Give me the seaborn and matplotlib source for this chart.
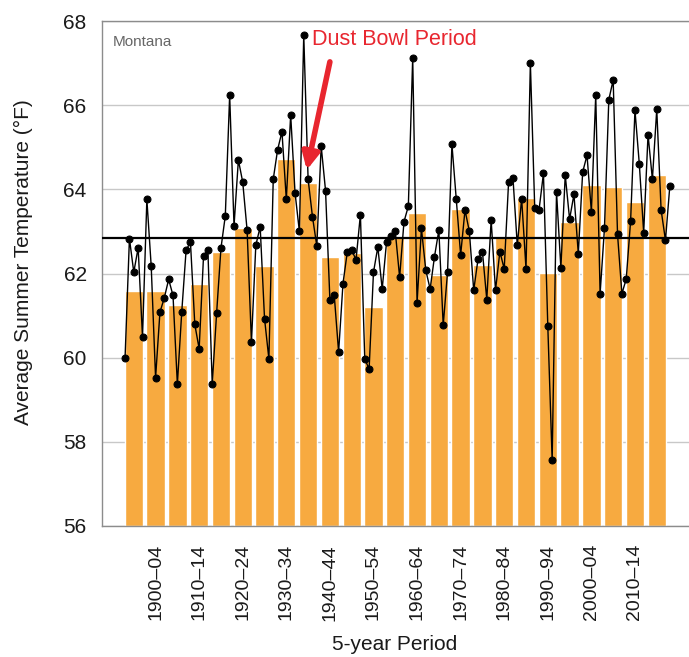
import numpy as np
import pandas as pd
import seaborn as sns
import matplotlib.pyplot as plt
from matplotlib.ticker import FixedLocator

# annual summer temperature (F), 1895-2020
years = np.arange(1895, 2021)
temps = [
    60.00, 62.83, 62.03, 62.61, 60.49,
    63.76, 62.17, 59.52, 61.08, 61.42, 61.86, 61.48, 59.37, 61.08, 62.55,
    62.75, 60.79, 60.21, 62.41, 62.57, 59.37, 61.05, 62.60, 63.37, 66.24,
    63.13, 64.70, 64.17, 63.03, 60.37, 62.67, 63.11, 60.93, 59.97, 64.24,
    64.94, 65.37, 63.76, 65.77, 63.92, 63.00, 67.67, 64.24, 63.35, 62.65,
    65.03, 63.97, 61.37, 61.48, 60.13, 61.76, 62.52, 62.55, 62.33, 63.40,
    59.97, 59.73, 62.03, 62.63, 61.63, 62.75, 62.90, 63.00, 61.91, 63.23,
    63.60, 67.13, 61.30, 63.07, 62.08, 61.63, 62.40, 63.03, 60.77, 62.04,
    65.07, 63.76, 62.44, 63.51, 63.00, 61.60, 62.35, 62.52, 61.38, 63.27,
    61.60, 62.52, 62.11, 64.17, 64.28, 62.67, 63.78, 62.11, 67.00, 63.56,
    63.52, 64.38, 60.75, 57.56, 63.94, 62.13, 64.34, 63.29, 63.88, 62.47,
    64.41, 64.81, 63.47, 66.24, 61.52, 63.07, 66.13, 66.60, 62.93, 61.52,
    61.87, 63.25, 65.88, 64.60, 62.97, 65.30, 64.24, 65.90, 63.51, 62.79,
    64.08,
]

# 5-year period means
period_start = np.arange(1895, 2020, 5)
period_mean = [
    61.58, 61.58, 61.26, 61.76, 62.52, 63.09, 62.17, 64.72, 64.15, 62.39,
    62.49, 61.21, 62.90, 63.43, 61.96, 63.53, 62.21, 62.90, 63.80, 62.02,
    63.23, 64.10, 64.06, 63.70, 64.33,
]
long_term_mean = 62.84

labeled_periods = [1900, 1910, 1920, 1930, 1940, 1950, 1960,
                   1970, 1980, 1990, 2000, 2010]

sns.set_style("white")
plt.rcParams["font.family"] = ["Liberation Sans", "DejaVu Sans"]

annual = pd.DataFrame({"year": years, "temp": temps})
periods = pd.DataFrame({"mid": period_start + 2, "temp": period_mean})

fig = plt.figure(figsize=(6.89, 6.57), dpi=100)
ax = fig.add_axes([0.148, 0.1994, 0.852, 0.7686])

sns.barplot(data=periods, x="mid", y="temp", native_scale=True, width=0.84,
            color="#F7AA40", saturation=1, errorbar=None, ax=ax)
# bars start at the bottom of the axis
for p in ax.patches:
    p.set_y(56)
    p.set_height(p.get_height() - 56)

ax.axhline(long_term_mean, color="black", lw=1.6, zorder=3)

sns.lineplot(data=annual, x="year", y="temp", color="black", lw=1,
             marker="o", markersize=5, markeredgecolor="black", ax=ax,
             zorder=4)

ax.set_xlim(1889.7, 2024.4)
ax.set_ylim(56, 68)
ax.set_yticks([56, 58, 60, 62, 64, 66, 68])
ax.yaxis.grid(True, color="#c8c8c8", lw=1)
ax.set_axisbelow(True)

ax.xaxis.set_major_locator(FixedLocator([p + 2 for p in labeled_periods]))
ax.set_xticklabels([f"{p}\u2013{str(p + 4)[2:]}" for p in labeled_periods],
                   rotation=90)
ax.xaxis.set_minor_locator(FixedLocator(list(period_start + 2)))
ax.tick_params(axis="x", which="major", length=10, color="#8c8c8c",
               labelsize=14, pad=3, labelcolor="#1a1a1a")
ax.tick_params(axis="x", which="minor", length=4, color="#8c8c8c")
ax.tick_params(axis="y", length=8, color="#8c8c8c", labelsize=15, pad=3,
               labelcolor="#1a1a1a")

for side in ["left", "top", "bottom"]:
    ax.spines[side].set_color("#8c8c8c")
    ax.spines[side].set_linewidth(1)
ax.spines["right"].set_visible(False)

ax.set_ylabel("Average Summer Temperature (°F)", fontsize=15, color="#1a1a1a")
ax.yaxis.set_label_coords(-0.117, 0.523)
ax.set_xlabel("5-year Period", fontsize=15, color="#1a1a1a")
ax.xaxis.set_label_coords(0.499, -0.216)

ax.text(0.019, 0.958, "Montana", transform=ax.transAxes, fontsize=11,
        color="#666666", va="center")

ax.annotate("", xy=(1936.7, 64.46), xytext=(1942.0, 67.03),
            arrowprops=dict(arrowstyle="-|>", color="#E8262F", lw=4,
                            mutation_scale=25, shrinkA=0, shrinkB=0),
            zorder=5)
ax.text(1937.9, 67.55, "Dust Bowl Period", color="#E8262F", fontsize=15.5,
        va="center", ha="left", zorder=5)

fig.savefig("out.png", dpi=100)
